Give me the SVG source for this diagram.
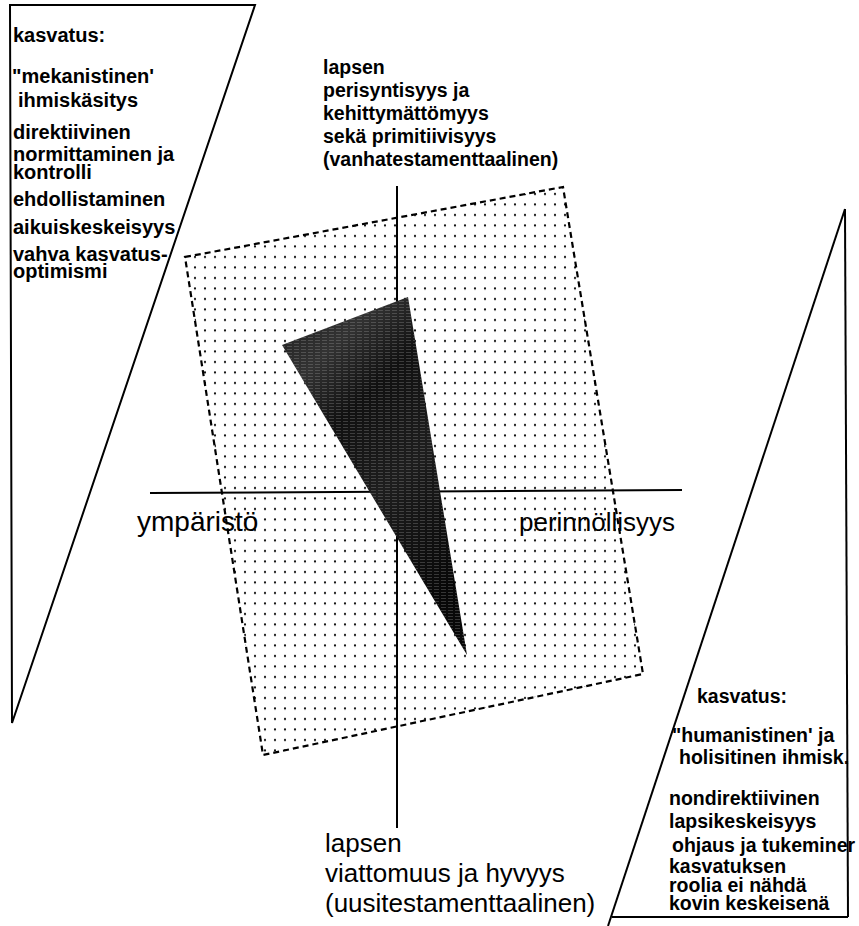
<svg xmlns="http://www.w3.org/2000/svg" width="859" height="926" viewBox="0 0 859 926">
  <style>
    .bold { font-family: "Liberation Sans", Arial, sans-serif; font-weight: bold; font-size: 20px; fill: #000; }
    .rb { font-size: 19.5px; }
    .axislbl { font-family: "Liberation Sans", Arial, sans-serif; font-size: 27px; fill: #000; }
    .bottomlbl { font-family: "Liberation Sans", Arial, sans-serif; font-size: 26px; fill: #000; }
    .edge { fill: none; stroke: #000; stroke-width: 2; stroke-linejoin: miter; }
    .axis { stroke: #000; stroke-width: 2; fill: none; }
  </style>
  <defs>
    <pattern id="dots" width="10" height="10.5" patternUnits="userSpaceOnUse">
      <circle cx="5" cy="5" r="1.1" fill="#000"/>
    </pattern>
    <pattern id="streaks" width="7" height="3" patternUnits="userSpaceOnUse">
      <rect x="0" y="1" width="5" height="1" fill="#aaa" fill-opacity="0.28"/>
    </pattern>
    <linearGradient id="wedgeShade" x1="0" y1="0" x2="0.5" y2="1">
      <stop offset="0" stop-color="#1c1c1c"/>
      <stop offset="0.22" stop-color="#333"/>
      <stop offset="0.4" stop-color="#111"/>
      <stop offset="0.65" stop-color="#1e1e1e"/>
      <stop offset="1" stop-color="#080808"/>
    </linearGradient>
  </defs>
  <rect width="859" height="926" fill="#fff"/>

  <g id="left-panel">
    <polygon class="edge" points="10,5 255,5 12,723"/>
    <text class="bold" x="13" y="42">kasvatus:</text>
    <text class="bold" x="12" y="83">"mekanistinen'</text>
    <text class="bold" x="18" y="107">ihmiskäsitys</text>
    <text class="bold" x="13" y="139">direktiivinen</text>
    <text class="bold" x="13" y="161">normittaminen ja</text>
    <text class="bold" x="13" y="179">kontrolli</text>
    <text class="bold" x="13" y="206">ehdollistaminen</text>
    <text class="bold" x="13" y="234">aikuiskeskeisyys</text>
    <text class="bold" x="13" y="261">vahva kasvatus-</text>
    <text class="bold" x="13" y="278">optimismi</text>
  </g>

  <g id="plane">
    <polygon points="185,257 563,187 643,674 263,755" fill="url(#dots)" stroke="#000" stroke-width="2.2" stroke-dasharray="6 4"/>
  </g>

  <g id="axes">
    <line class="axis" x1="150" y1="493" x2="682" y2="490"/>
    <line class="axis" x1="397" y1="186" x2="397" y2="828"/>
  </g>

  <g id="wedge">
    <polygon points="282,345 408,297 467,655" fill="url(#wedgeShade)"/>
    <polygon points="282,345 408,297 467,655" fill="url(#streaks)"/>
  </g>

  <g id="top-label">
    <text class="bold rb" x="323" y="74">lapsen</text>
    <text class="bold rb" x="323" y="97">perisyntisyys ja</text>
    <text class="bold rb" x="323" y="120">kehittymättömyys</text>
    <text class="bold rb" x="323" y="143">sekä primitiivisyys</text>
    <text class="bold rb" x="323" y="166">(vanhatestamenttaalinen)</text>
  </g>

  <g id="axis-labels">
    <text class="axislbl" x="137" y="531" style="font-size:28px">ympäristö</text>
    <text class="axislbl" x="519" y="531" style="font-size:26px">perinnöllisyys</text>
  </g>

  <g id="bottom-label">
    <text class="bottomlbl" x="325" y="852">lapsen</text>
    <text class="bottomlbl" x="325" y="882">viattomuus ja hyvyys</text>
    <text class="bottomlbl" x="325" y="912">(uusitestamenttaalinen)</text>
  </g>

  <g id="right-panel">
    <line class="axis" x1="845" y1="209" x2="608" y2="926"/>
    <line class="axis" x1="845" y1="209" x2="848" y2="917"/>
    <line class="axis" x1="612" y1="917" x2="848" y2="917"/>
    <text class="bold rb" x="697" y="703">kasvatus:</text>
    <text class="bold rb" x="672" y="742">"humanistinen' ja</text>
    <text class="bold rb" x="679" y="764">holisitinen ihmisk.</text>
    <text class="bold rb" x="669" y="805">nondirektiivinen</text>
    <text class="bold rb" x="669" y="828">lapsikeskeisyys</text>
    <text class="bold rb" x="672" y="852">ohjaus ja tukeminer</text>
    <text class="bold rb" x="669" y="873">kasvatuksen</text>
    <text class="bold rb" x="669" y="892">roolia ei nähdä</text>
    <text class="bold rb" x="669" y="910">kovin keskeisenä</text>
  </g>
</svg>
